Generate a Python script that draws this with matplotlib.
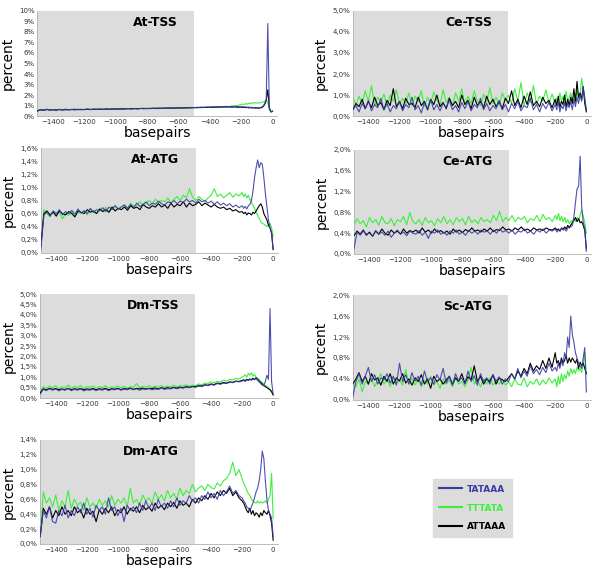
import numpy as np
import matplotlib
matplotlib.use("Agg")
import matplotlib.pyplot as plt
from matplotlib.lines import Line2D

# positions in bp upstream: 20 bp steps far away, 10 bp steps close to 0
bp = np.concatenate([np.arange(-1500, -200, 20), np.arange(-200, 1, 10)])

motifs = ["TATAAA", "TTTATA", "ATTAAA"]
colors = {"TATAAA": "#3b3ba6", "TTTATA": "#3cf03c", "ATTAAA": "#000000"}

# ---------- At-TSS ----------
at_tss_tataaa = [0.45, 0.62, 0.58, 0.65, 0.60, 0.63, 0.57, 0.64, 0.60, 0.66,
                 0.61, 0.63, 0.66, 0.60, 0.65, 0.62, 0.68, 0.63, 0.66, 0.64,
                 0.67, 0.63, 0.69, 0.65, 0.68, 0.66, 0.70, 0.66, 0.69, 0.72,
                 0.68, 0.71, 0.69, 0.73, 0.70, 0.74, 0.71, 0.73, 0.76, 0.72,
                 0.75, 0.73, 0.77, 0.74, 0.78, 0.75, 0.79, 0.76, 0.80, 0.78,
                 0.82, 0.79, 0.85, 0.81, 0.86, 0.82, 0.88, 0.84, 0.90, 0.86,
                 0.92, 0.87, 0.93, 0.88, 0.90,
                 0.86, 0.90, 0.84, 0.88, 0.82, 0.86, 0.80, 0.84, 0.79, 0.83,
                 0.80, 0.78, 0.82, 0.85, 0.95, 1.2, 1.6, 8.8, 0.7, 0.4, 0.45]
at_tss_tttata = [0.50, 0.62, 0.58, 0.64, 0.60, 0.62, 0.58, 0.65, 0.60, 0.63,
                 0.62, 0.60, 0.65, 0.62, 0.64, 0.60, 0.66, 0.63, 0.65, 0.67,
                 0.64, 0.68, 0.65, 0.67, 0.69, 0.66, 0.70, 0.68, 0.71, 0.69,
                 0.70, 0.72, 0.70, 0.74, 0.71, 0.73, 0.75, 0.72, 0.76, 0.74,
                 0.76, 0.74, 0.78, 0.76, 0.79, 0.77, 0.80, 0.78, 0.82, 0.80,
                 0.82, 0.80, 0.84, 0.82, 0.86, 0.83, 0.88, 0.85, 0.90, 0.87,
                 0.92, 0.90, 0.95, 0.98, 1.02,
                 1.08, 1.15, 1.10, 1.20, 1.12, 1.25, 1.18, 1.28, 1.20, 1.30,
                 1.22, 1.28, 1.25, 1.30, 1.35, 1.40, 1.50, 1.30, 0.60, 0.45, 0.50]
at_tss_attaaa = [0.50, 0.60, 0.56, 0.62, 0.58, 0.60, 0.57, 0.62, 0.59, 0.61,
                 0.60, 0.63, 0.60, 0.64, 0.61, 0.63, 0.65, 0.62, 0.66, 0.64,
                 0.66, 0.64, 0.68, 0.65, 0.67, 0.69, 0.66, 0.70, 0.68, 0.71,
                 0.69, 0.72, 0.70, 0.72, 0.74, 0.71, 0.73, 0.75, 0.72, 0.76,
                 0.74, 0.77, 0.75, 0.78, 0.76, 0.79, 0.77, 0.80, 0.78, 0.81,
                 0.80, 0.83, 0.81, 0.84, 0.82, 0.86, 0.83, 0.87, 0.85, 0.88,
                 0.86, 0.89, 0.85, 0.88, 0.84,
                 0.86, 0.82, 0.85, 0.80, 0.83, 0.78, 0.82, 0.77, 0.80, 0.76,
                 0.78, 0.75, 0.78, 0.80, 0.90, 1.10, 1.50, 2.50, 0.80, 0.40, 0.45]

# ---------- Ce-TSS ----------
ce_tss_tataaa = [0.30, 0.50, 0.20, 0.60, 0.35, 0.75, 0.25, 0.55, 0.40, 0.85,
                 0.30, 0.60, 0.20, 0.50, 0.35, 0.70, 0.25, 0.55, 0.40, 0.90,
                 0.30, 0.50, 0.15, 0.65, 0.35, 0.80, 0.30, 0.55, 0.25, 0.60,
                 0.40, 0.75, 0.30, 0.50, 0.20, 0.65, 0.35, 0.70, 0.25, 0.55,
                 0.40, 0.85, 0.30, 0.60, 0.25, 0.50, 0.35, 0.75, 0.30, 0.55,
                 0.20, 0.60, 0.35, 0.70, 0.25, 0.50, 0.40, 0.85, 0.30, 0.55,
                 0.20, 0.60, 0.35, 0.65, 0.25,
                 0.55, 0.30, 0.70, 0.20, 0.50, 0.35, 0.65, 0.25, 0.60, 0.40,
                 0.70, 0.30, 0.80, 0.45, 0.90, 0.60, 1.00, 0.70, 1.40, 0.80, 0.30]
ce_tss_tttata = [0.90, 0.55, 0.95, 0.60, 1.20, 0.70, 1.45, 0.50, 0.90, 0.65,
                 1.05, 0.45, 1.00, 0.70, 1.25, 0.55, 0.85, 0.60, 1.10, 0.50,
                 0.95, 0.70, 1.20, 0.45, 0.90, 0.60, 1.15, 0.75, 0.50, 1.25,
                 0.65, 0.90, 0.50, 1.10, 0.70, 1.30, 0.55, 0.95, 0.60, 1.20,
                 0.70, 0.50, 1.05, 0.65, 1.35, 0.60, 0.90, 0.50, 1.10, 0.75,
                 1.00, 0.60, 1.30, 0.70, 1.60, 0.50, 1.10, 0.65, 1.45, 0.55,
                 0.95, 0.70, 1.25, 0.60, 1.05,
                 0.55, 0.85, 0.60, 1.10, 0.70, 0.95, 0.50, 1.20, 0.65, 0.90,
                 1.10, 0.70, 0.95, 0.60, 1.25, 0.80, 1.00, 1.80, 1.30, 0.90, 0.30]
ce_tss_attaaa = [0.30, 0.60, 0.45, 0.80, 0.35, 0.70, 0.40, 0.90, 0.50, 0.65,
                 0.30, 0.75, 0.50, 1.30, 0.45, 0.70, 0.35, 0.85, 0.55, 0.60,
                 0.40, 0.90, 0.50, 0.70, 0.30, 0.80, 0.55, 1.00, 0.45, 0.65,
                 0.35, 0.85, 0.50, 0.70, 0.40, 1.00, 0.55, 0.75, 0.35, 0.90,
                 0.50, 0.70, 0.40, 0.95, 0.55, 0.80, 0.45, 0.70, 0.35, 0.85,
                 0.60, 1.20, 0.50, 0.80, 0.40, 0.95, 0.55, 1.15, 0.50, 0.70,
                 0.45, 0.90, 0.60, 0.75, 0.40,
                 0.80, 0.50, 0.95, 0.40, 0.70, 0.55, 1.00, 0.45, 0.80, 0.50,
                 0.90, 0.60, 1.30, 0.70, 1.65, 0.90, 1.10, 0.80, 1.40, 0.60, 0.20]

# ---------- At-ATG ----------
at_atg_tataaa = [0.05, 0.58, 0.62, 0.56, 0.64, 0.60, 0.66, 0.58, 0.63, 0.60,
                 0.65, 0.59, 0.67, 0.61, 0.64, 0.60, 0.68, 0.62, 0.66, 0.64,
                 0.69, 0.63, 0.70, 0.66, 0.72, 0.67, 0.70, 0.73, 0.68, 0.74,
                 0.70, 0.76, 0.71, 0.74, 0.78, 0.72, 0.76, 0.74, 0.79, 0.75,
                 0.73, 0.78, 0.76, 0.80, 0.75, 0.79, 0.77, 0.82, 0.78, 0.80,
                 0.76, 0.82, 0.78, 0.80, 0.76, 0.79, 0.74, 0.78, 0.73, 0.76,
                 0.72, 0.75, 0.70, 0.73, 0.69,
                 0.72, 0.68, 0.71, 0.67, 0.72, 0.74, 0.80, 0.95, 1.15, 1.30,
                 1.42, 1.30, 1.38, 1.35, 1.15, 0.90, 0.70, 0.50, 0.38, 0.30, 0.05]
at_atg_tttata = [0.10, 0.66, 0.60, 0.55, 0.64, 0.58, 0.62, 0.52, 0.60, 0.57,
                 0.63, 0.55, 0.62, 0.60, 0.65, 0.58, 0.66, 0.62, 0.60, 0.67,
                 0.64, 0.70, 0.62, 0.68, 0.72, 0.66, 0.70, 0.74, 0.68, 0.76,
                 0.70, 0.73, 0.78, 0.72, 0.76, 0.80, 0.74, 0.82, 0.77, 0.80,
                 0.78, 0.84, 0.76, 0.82, 0.86, 0.80, 0.88, 0.84, 0.98, 0.85,
                 0.80, 0.86, 0.82, 0.79, 0.84, 0.88, 0.98, 0.86, 0.90, 0.84,
                 0.88, 0.92, 0.85, 0.90, 0.87,
                 0.92, 0.86, 0.90, 0.84, 0.88, 0.82, 0.78, 0.72, 0.68, 0.62,
                 0.58, 0.52, 0.48, 0.45, 0.44, 0.42, 0.40, 0.42, 0.45, 0.38, 0.25]
at_atg_attaaa = [0.10, 0.60, 0.64, 0.58, 0.62, 0.56, 0.64, 0.60, 0.58, 0.63,
                 0.60, 0.55, 0.64, 0.62, 0.60, 0.66, 0.62, 0.64, 0.60, 0.67,
                 0.63, 0.66, 0.62, 0.70, 0.64, 0.68, 0.66, 0.70, 0.65, 0.72,
                 0.68, 0.70, 0.66, 0.74, 0.70, 0.68, 0.72, 0.70, 0.75, 0.70,
                 0.73, 0.68, 0.76, 0.70, 0.74, 0.72, 0.78, 0.70, 0.76, 0.72,
                 0.74, 0.78, 0.72, 0.76, 0.73, 0.70, 0.74, 0.70, 0.68, 0.70,
                 0.66, 0.68, 0.64, 0.66, 0.62,
                 0.63, 0.60, 0.62, 0.58, 0.61, 0.60, 0.58, 0.62, 0.60, 0.64,
                 0.68, 0.72, 0.75, 0.70, 0.60, 0.55, 0.50, 0.42, 0.38, 0.30, 0.05]

# ---------- Ce-ATG ----------
ce_atg_tataaa = [0.10, 0.42, 0.36, 0.44, 0.38, 0.40, 0.34, 0.45, 0.38, 0.42,
                 0.36, 0.44, 0.32, 0.40, 0.46, 0.38, 0.42, 0.35, 0.44, 0.40,
                 0.38, 0.45, 0.36, 0.42, 0.30, 0.44, 0.40, 0.46, 0.38, 0.42,
                 0.36, 0.44, 0.40, 0.46, 0.38, 0.42, 0.36, 0.45, 0.40, 0.44,
                 0.38, 0.46, 0.42, 0.44, 0.38, 0.46, 0.40, 0.48, 0.42, 0.45,
                 0.40, 0.46, 0.38, 0.44, 0.42, 0.48, 0.40, 0.44, 0.38, 0.46,
                 0.42, 0.48, 0.40, 0.46, 0.44,
                 0.48, 0.42, 0.46, 0.44, 0.50, 0.46, 0.48, 0.44, 0.50, 0.52,
                 0.52, 0.55, 0.72, 1.00, 1.25, 1.30, 1.88, 0.90, 0.60, 0.50, 0.05]
ce_atg_tttata = [0.55, 0.68, 0.58, 0.64, 0.52, 0.70, 0.60, 0.66, 0.55, 0.72,
                 0.60, 0.58, 0.68, 0.54, 0.66, 0.62, 0.72, 0.56, 0.80, 0.62,
                 0.58, 0.66, 0.55, 0.70, 0.60, 0.64, 0.54, 0.68, 0.60, 0.72,
                 0.58, 0.66, 0.56, 0.70, 0.62, 0.68, 0.56, 0.72, 0.60, 0.66,
                 0.58, 0.70, 0.62, 0.66, 0.60, 0.74, 0.64, 0.82, 0.62, 0.70,
                 0.64, 0.74, 0.62, 0.70, 0.66, 0.72, 0.60, 0.68, 0.64, 0.74,
                 0.62, 0.76, 0.66, 0.70, 0.62,
                 0.74, 0.66, 0.78, 0.64, 0.72, 0.62, 0.70, 0.60, 0.66, 0.58,
                 0.64, 0.60, 0.68, 0.62, 0.70, 0.64, 0.75, 0.85, 0.72, 0.60, 0.40]
ce_atg_attaaa = [0.35, 0.44, 0.38, 0.46, 0.36, 0.42, 0.34, 0.44, 0.38, 0.48,
                 0.40, 0.36, 0.46, 0.40, 0.44, 0.38, 0.48, 0.40, 0.45, 0.42,
                 0.46, 0.40, 0.50, 0.42, 0.46, 0.40, 0.48, 0.42, 0.45, 0.40,
                 0.44, 0.38, 0.48, 0.42, 0.46, 0.41, 0.47, 0.43, 0.50, 0.44,
                 0.46, 0.42, 0.48, 0.44, 0.50, 0.43, 0.47, 0.45, 0.52, 0.46,
                 0.48, 0.44, 0.50, 0.46, 0.52, 0.45, 0.48, 0.44, 0.50, 0.46,
                 0.48, 0.45, 0.50, 0.47, 0.46,
                 0.50, 0.46, 0.48, 0.44, 0.50, 0.47, 0.52, 0.48, 0.55, 0.50,
                 0.56, 0.60, 0.65, 0.70, 0.62, 0.68, 0.60, 0.62, 0.55, 0.45, 0.10]

# ---------- Dm-TSS ----------
dm_tss_tataaa = [0.20, 0.42, 0.36, 0.45, 0.38, 0.44, 0.35, 0.42, 0.38, 0.46,
                 0.36, 0.42, 0.38, 0.44, 0.35, 0.40, 0.38, 0.43, 0.36, 0.42,
                 0.38, 0.44, 0.36, 0.42, 0.40, 0.45, 0.38, 0.43, 0.40, 0.46,
                 0.40, 0.45, 0.38, 0.44, 0.42, 0.46, 0.40, 0.44, 0.42, 0.48,
                 0.42, 0.46, 0.44, 0.50, 0.45, 0.50, 0.48, 0.52, 0.50, 0.55,
                 0.52, 0.58, 0.55, 0.62, 0.60, 0.65, 0.62, 0.70, 0.66, 0.72,
                 0.70, 0.76, 0.74, 0.80, 0.78,
                 0.82, 0.85, 0.80, 0.88, 0.84, 0.90, 0.86, 0.92, 0.88, 0.95,
                 0.85, 0.78, 0.70, 0.62, 0.60, 0.80, 1.10, 0.90, 4.30, 0.80, 0.20]
dm_tss_tttata = [0.30, 0.55, 0.48, 0.58, 0.50, 0.60, 0.45, 0.55, 0.50, 0.62,
                 0.48, 0.56, 0.50, 0.60, 0.46, 0.55, 0.52, 0.58, 0.48, 0.56,
                 0.50, 0.60, 0.48, 0.54, 0.52, 0.58, 0.50, 0.56, 0.48, 0.55,
                 0.52, 0.70, 0.50, 0.56, 0.52, 0.60, 0.50, 0.58, 0.54, 0.60,
                 0.52, 0.58, 0.55, 0.62, 0.54, 0.60, 0.58, 0.64, 0.56, 0.62,
                 0.60, 0.68, 0.64, 0.72, 0.70, 0.78, 0.74, 0.80, 0.78, 0.86,
                 0.82, 0.90, 0.88, 0.95, 0.92,
                 1.00, 1.05, 1.12, 1.00, 1.18, 1.10, 1.22, 1.05, 1.15, 1.00,
                 0.95, 0.90, 0.82, 0.75, 0.68, 0.60, 0.55, 0.50, 0.42, 0.35, 0.20]
dm_tss_attaaa = [0.25, 0.45, 0.40, 0.47, 0.42, 0.46, 0.40, 0.44, 0.41, 0.47,
                 0.40, 0.45, 0.42, 0.46, 0.40, 0.44, 0.42, 0.46, 0.40, 0.45,
                 0.42, 0.47, 0.40, 0.45, 0.43, 0.47, 0.41, 0.46, 0.43, 0.48,
                 0.42, 0.47, 0.44, 0.48, 0.43, 0.47, 0.45, 0.49, 0.44, 0.50,
                 0.46, 0.50, 0.47, 0.52, 0.48, 0.53, 0.50, 0.55, 0.52, 0.56,
                 0.55, 0.60, 0.58, 0.64, 0.62, 0.68, 0.65, 0.72, 0.70, 0.75,
                 0.72, 0.78, 0.76, 0.82, 0.80,
                 0.85, 0.88, 0.84, 0.90, 0.87, 0.92, 0.88, 0.95, 0.90, 0.98,
                 0.90, 0.82, 0.75, 0.68, 0.60, 0.55, 0.50, 0.45, 0.40, 0.30, 0.15]

# ---------- Sc-ATG ----------
sc_atg_tataaa = [0.05, 0.35, 0.50, 0.30, 0.45, 0.62, 0.35, 0.48, 0.30, 0.42,
                 0.38, 0.50, 0.32, 0.45, 0.28, 0.70, 0.35, 0.48, 0.30, 0.52,
                 0.36, 0.45, 0.28, 0.55, 0.35, 0.42, 0.30, 0.48, 0.38, 0.60,
                 0.32, 0.45, 0.28, 0.50, 0.36, 0.42, 0.30, 0.55, 0.35, 0.46,
                 0.28, 0.50, 0.35, 0.42, 0.30, 0.48, 0.36, 0.44, 0.30, 0.40,
                 0.35, 0.50, 0.40, 0.60, 0.42, 0.55, 0.45, 0.65, 0.50, 0.58,
                 0.48, 0.62, 0.52, 0.70, 0.55,
                 0.62, 0.55, 0.70, 0.60, 0.75, 0.65, 0.90, 0.80, 1.20, 1.00,
                 1.60, 1.25, 1.10, 0.90, 0.80, 0.70, 0.65, 0.60, 0.80, 1.00, 0.15]
sc_atg_tttata = [0.30, 0.25, 0.40, 0.15, 0.35, 0.30, 0.42, 0.25, 0.38, 0.50,
                 0.30, 0.40, 0.25, 0.45, 0.30, 0.38, 0.28, 0.58, 0.30, 0.42,
                 0.28, 0.40, 0.25, 0.38, 0.30, 0.45, 0.28, 0.35, 0.22, 0.40,
                 0.30, 0.38, 0.25, 0.42, 0.30, 0.35, 0.25, 0.38, 0.62, 0.30,
                 0.38, 0.25, 0.40, 0.30, 0.42, 0.28, 0.36, 0.30, 0.40, 0.28,
                 0.35, 0.25, 0.40, 0.30, 0.28, 0.42, 0.25, 0.35, 0.30, 0.40,
                 0.28, 0.38, 0.30, 0.42, 0.32,
                 0.40, 0.25, 0.45, 0.30, 0.50, 0.35, 0.48, 0.40, 0.55, 0.45,
                 0.60, 0.50, 0.58, 0.50, 0.62, 0.55, 0.60, 0.52, 0.70, 0.90, 0.50]
sc_atg_attaaa = [0.30, 0.40, 0.52, 0.35, 0.45, 0.30, 0.50, 0.38, 0.42, 0.28,
                 0.45, 0.35, 0.50, 0.30, 0.42, 0.36, 0.50, 0.32, 0.40, 0.28,
                 0.42, 0.35, 0.48, 0.30, 0.40, 0.22, 0.45, 0.35, 0.40, 0.30,
                 0.38, 0.45, 0.30, 0.42, 0.35, 0.50, 0.32, 0.44, 0.38, 0.65,
                 0.35, 0.45, 0.30, 0.40, 0.35, 0.48, 0.30, 0.42, 0.38, 0.35,
                 0.42, 0.50, 0.40, 0.55, 0.45, 0.60, 0.50, 0.70, 0.55, 0.65,
                 0.58, 0.75, 0.60, 0.80, 0.62,
                 0.90, 0.70, 0.75, 0.65, 0.80, 0.70, 0.75, 0.85, 0.70, 0.80,
                 0.72, 0.80, 0.75, 0.70, 0.78, 0.60, 0.72, 0.65, 0.70, 0.60, 0.50]

# ---------- Dm-ATG ----------
dm_atg_tataaa = [0.10, 0.45, 0.35, 0.50, 0.30, 0.28, 0.45, 0.38, 0.52, 0.35,
                 0.45, 0.38, 0.50, 0.42, 0.55, 0.40, 0.48, 0.36, 0.52, 0.45,
                 0.50, 0.40, 0.62, 0.45, 0.50, 0.38, 0.48, 0.30, 0.52, 0.45,
                 0.50, 0.42, 0.55, 0.45, 0.58, 0.48, 0.55, 0.45, 0.60, 0.50,
                 0.55, 0.48, 0.58, 0.50, 0.62, 0.52, 0.58, 0.55, 0.65, 0.58,
                 0.62, 0.55, 0.65, 0.60, 0.70, 0.62, 0.68, 0.60, 0.72, 0.65,
                 0.70, 0.78, 0.68, 0.72, 0.65,
                 0.62, 0.58, 0.55, 0.50, 0.48, 0.45, 0.50, 0.55, 0.62, 0.70,
                 0.75, 0.85, 1.00, 1.25, 1.15, 0.85, 0.60, 0.45, 0.40, 0.35, 0.10]
dm_atg_tttata = [0.10, 0.70, 0.55, 0.62, 0.50, 0.66, 0.45, 0.58, 0.50, 0.72,
                 0.48, 0.60, 0.52, 0.56, 0.45, 0.62, 0.50, 0.55, 0.48, 0.60,
                 0.52, 0.58, 0.50, 0.65, 0.52, 0.60, 0.55, 0.62, 0.50, 0.75,
                 0.55, 0.60, 0.52, 0.66, 0.58, 0.62, 0.55, 0.70, 0.60, 0.66,
                 0.58, 0.72, 0.62, 0.68, 0.60, 0.75, 0.65, 0.72, 0.68, 0.80,
                 0.70, 0.75, 0.78, 0.72, 0.80, 0.76, 0.74, 0.82, 0.78, 0.85,
                 0.88, 0.95, 1.10, 0.92, 1.00,
                 0.88, 0.82, 0.78, 0.72, 0.68, 0.65, 0.60, 0.58, 0.56, 0.55,
                 0.58, 0.55, 0.57, 0.55, 0.56, 0.58, 0.55, 0.60, 0.65, 0.95, 0.35]
dm_atg_attaaa = [0.10, 0.48, 0.40, 0.50, 0.35, 0.45, 0.38, 0.50, 0.40, 0.45,
                 0.38, 0.50, 0.42, 0.46, 0.35, 0.48, 0.40, 0.44, 0.30, 0.46,
                 0.40, 0.48, 0.42, 0.50, 0.38, 0.46, 0.42, 0.50, 0.40, 0.48,
                 0.44, 0.50, 0.42, 0.52, 0.46, 0.50, 0.44, 0.55, 0.48, 0.52,
                 0.46, 0.55, 0.50, 0.56, 0.48, 0.58, 0.52, 0.55, 0.50, 0.60,
                 0.55, 0.62, 0.58, 0.65, 0.60, 0.68, 0.62, 0.70, 0.65, 0.72,
                 0.68, 0.75, 0.65, 0.70, 0.62,
                 0.58, 0.55, 0.50, 0.45, 0.42, 0.48, 0.40, 0.45, 0.38, 0.42,
                 0.40, 0.36, 0.42, 0.38, 0.45, 0.42, 0.40, 0.45, 0.38, 0.28, 0.05]

# title, series, y max, y step, tick decimals, axes rect (left, bottom, width, height)
panels = [
    ("At-TSS", (at_tss_tataaa, at_tss_tttata, at_tss_attaaa), 10, 1, 0, [0.062, 0.797, 0.400, 0.184]),
    ("Ce-TSS", (ce_tss_tataaa, ce_tss_tttata, ce_tss_attaaa), 5, 1, 1, [0.588, 0.797, 0.397, 0.184]),
    ("At-ATG", (at_atg_tataaa, at_atg_tttata, at_atg_attaaa), 1.6, 0.2, 1, [0.068, 0.558, 0.395, 0.183]),
    ("Ce-ATG", (ce_atg_tataaa, ce_atg_tttata, ce_atg_attaaa), 2.0, 0.4, 1, [0.590, 0.556, 0.395, 0.182]),
    ("Dm-TSS", (dm_tss_tataaa, dm_tss_tttata, dm_tss_attaaa), 5, 0.5, 1, [0.067, 0.304, 0.396, 0.182]),
    ("Sc-ATG", (sc_atg_tataaa, sc_atg_tttata, sc_atg_attaaa), 2.0, 0.4, 1, [0.588, 0.301, 0.397, 0.183]),
    ("Dm-ATG", (dm_atg_tataaa, dm_atg_tttata, dm_atg_attaaa), 1.4, 0.2, 1, [0.067, 0.049, 0.396, 0.182]),
]

fig = plt.figure(figsize=(6, 5.72), dpi=100)
fig.patch.set_facecolor("white")

for title, series, ymax, ystep, dec, rect in panels:
    ax = fig.add_axes(rect)
    ax.set_facecolor("white")
    ax.axvspan(-1500, -500, color="#dcdcdc", lw=0, zorder=0)
    tata, ttta, atta = series
    # green below, then black, blue on top
    ax.plot(bp, ttta, color=colors["TTTATA"], lw=0.8, zorder=2)
    ax.plot(bp, atta, color=colors["ATTAAA"], lw=0.8, zorder=3)
    ax.plot(bp, tata, color=colors["TATAAA"], lw=0.8, alpha=0.9, zorder=4)
    ax.set_xlim(-1500, 30)
    ax.set_ylim(0, ymax)
    yt = np.arange(0, ymax + ystep / 2, ystep)
    ax.set_yticks(yt)
    ax.set_yticklabels([(f"{v:.{dec}f}%").replace(".", ",") for v in yt])
    ax.set_xticks(np.arange(-1400, 1, 200))
    ax.tick_params(labelsize=5, length=0, pad=2, colors="#333333")
    for s in ["top", "right"]:
        ax.spines[s].set_visible(False)
    for s in ["left", "bottom"]:
        ax.spines[s].set_color("#b0b0b0")
        ax.spines[s].set_linewidth(0.6)
    ax.set_xlabel("basepairs", fontsize=10, labelpad=1)
    ax.set_ylabel("percent", fontsize=10, labelpad=3)
    ax.text(0.585, 0.89, title, transform=ax.transAxes, ha="right", va="center",
            fontsize=9, fontweight="bold")

handles = [Line2D([], [], color=colors[m], lw=1.5) for m in motifs]
leg = fig.legend(handles, motifs, loc="upper left", bbox_to_anchor=(0.722, 0.163),
                 borderaxespad=0, frameon=True, facecolor="#dcdcdc", edgecolor="#dcdcdc",
                 fancybox=False, prop={"weight": "bold", "size": 6.5}, handlelength=2.5,
                 handletextpad=0.55, labelspacing=1.1, borderpad=0.65,
                 labelcolor=[colors[m] for m in motifs])
leg.get_frame().set_alpha(1)

fig.savefig("out.png", dpi=100)
